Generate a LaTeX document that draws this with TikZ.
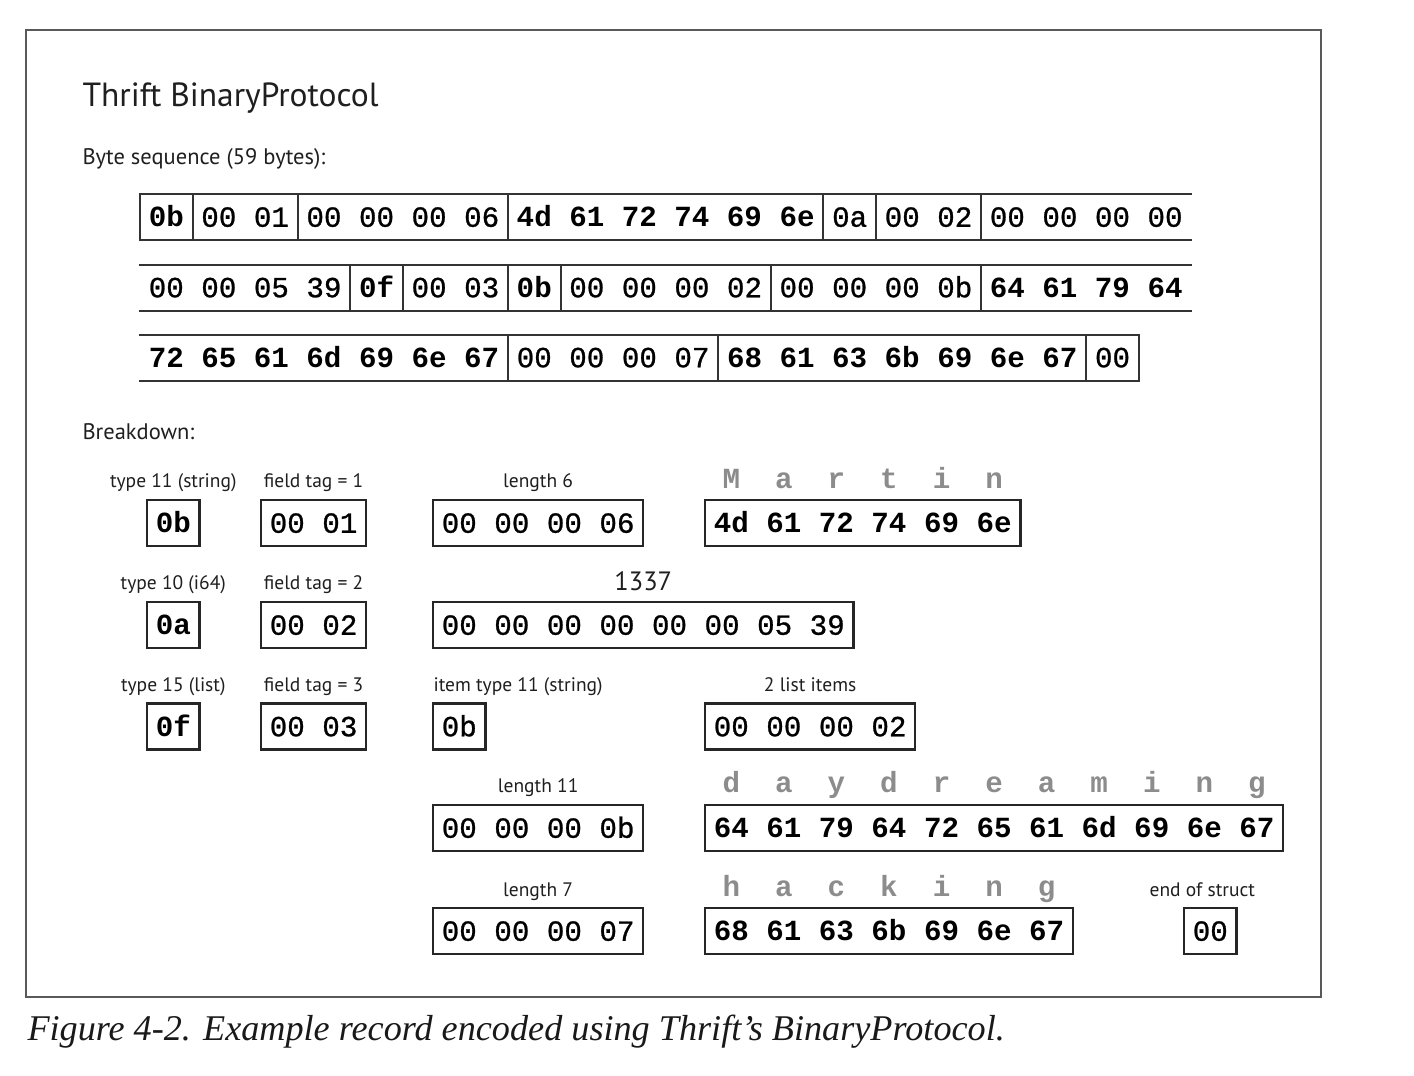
\documentclass[tikz,border=0pt]{standalone}
\usepackage{fontspec}
\setmainfont{Liberation Serif}
\newfontfamily\lblfont{PT Sans}
\newfontfamily\hexfont{Liberation Mono}
\newfontfamily\hexmed[FakeBold=0.9]{Liberation Mono}
\tikzset{
  hexr/.style={font=\hexmed\fontsize{29.2}{30}\selectfont},
  hexb/.style={font=\hexfont\bfseries\fontsize{29.2}{30}\selectfont},
  cell/.style={inner xsep=8.76pt, inner ysep=0pt, minimum height=46pt,
    text height=19.5pt, text depth=0pt, outer sep=0pt, anchor=west},
  rowline/.style={draw=black!80, line width=2pt, line cap=rect},
  bbox/.style={cell, draw=black!85, line width=2.4pt},
  lbl/.style={font=\lblfont\fontsize{19.5}{20}\selectfont, text=black!88, anchor=base},
  chr/.style={font=\hexfont\bfseries\fontsize{29.2}{30}\selectfont, text=black!45, anchor=base},
  frame/.style={draw=black!65, line width=1.2pt},
}
\begin{document}
\begin{tikzpicture}[x=1pt,y=-1pt]
\useasboundingbox (0,0) rectangle (1414,1076);
\draw[frame] (26,30) rectangle (1321,997);

% headings
\node[anchor=base west, font=\lblfont\fontsize{33.5}{35}\selectfont, text=black!88] (title) at (79,106) {Thrift BinaryProtocol};
\node[anchor=base west, font=\lblfont\fontsize{22.5}{24}\selectfont, text=black!88] (seq) at (79,164) {Byte sequence (59 bytes):};
\node[anchor=base west, font=\lblfont\fontsize{22.5}{24}\selectfont, text=black!88] (brk) at (79,439) {Breakdown:};

% ---- byte sequence row 1
\node[cell,hexb] (r1a) at (140,217) {0b};
\node[cell,hexr] (r1b) at (r1a.east) {00 01};
\node[cell,hexr] (r1c) at (r1b.east) {00 00 00 06};
\node[cell,hexb] (r1d) at (r1c.east) {4d 61 72 74 69 6e};
\node[cell,hexr] (r1e) at (r1d.east) {0a};
\node[cell,hexr] (r1f) at (r1e.east) {00 02};
\node[cell,hexr] (r1g) at (r1f.east) {00 00 00 00};
\draw[rowline] (r1a.north west) -- (r1g.north east);
\draw[rowline] (r1a.south west) -- (r1g.south east);
\draw[rowline] (r1a.north west) -- (r1a.south west);
\foreach \c in {a,b,c,d,e,f} \draw[rowline] (r1\c.north east) -- (r1\c.south east);

% ---- row 2
\node[cell,hexr] (r2a) at (140,287.5) {00 00 05 39};
\node[cell,hexb] (r2b) at (r2a.east) {0f};
\node[cell,hexr] (r2c) at (r2b.east) {00 03};
\node[cell,hexb] (r2d) at (r2c.east) {0b};
\node[cell,hexr] (r2e) at (r2d.east) {00 00 00 02};
\node[cell,hexr] (r2f) at (r2e.east) {00 00 00 0b};
\node[cell,hexb] (r2g) at (r2f.east) {64 61 79 64};
\draw[rowline] (r2a.north west) -- (r2g.north east);
\draw[rowline] (r2a.south west) -- (r2g.south east);
\foreach \c in {a,b,c,d,e,f} \draw[rowline] (r2\c.north east) -- (r2\c.south east);

% ---- row 3
\node[cell,hexb] (r3a) at (140,357.5) {72 65 61 6d 69 6e 67};
\node[cell,hexr] (r3b) at (r3a.east) {00 00 00 07};
\node[cell,hexb] (r3c) at (r3b.east) {68 61 63 6b 69 6e 67};
\node[cell,hexr] (r3d) at (r3c.east) {00};
\draw[rowline] (r3a.north west) -- (r3d.north east);
\draw[rowline] (r3a.south west) -- (r3d.south east);
\foreach \c in {a,b,c,d} \draw[rowline] (r3\c.north east) -- (r3\c.south east);

% ---- breakdown row A
\node[bbox,hexb] (bA1) at (147,523) {0b};
\node[bbox,hexr] (bA2) at (261,523) {00 01};
\node[bbox,hexr] (bA3) at (433,523) {00 00 00 06};
\node[bbox,hexb] (bA4) at (705,523) {4d 61 72 74 69 6e};
\node[lbl] (lA1) at ([yshift=13pt]bA1.north) {type 11 (string)};
\node[lbl] (lA2) at ([yshift=13pt]bA2.north) {field tag = 1};
\node[lbl] (lA3) at ([yshift=13pt]bA3.north) {length 6};
\foreach \ch [count=\k] in {M,a,r,t,i,n}
  \node[chr] (mA\k) at ([xshift={(\k-0.5)*52.56pt}, yshift=12pt]bA4.north west) {\ch};

% ---- row B
\node[bbox,hexb] (bB1) at (147,625) {0a};
\node[bbox,hexr] (bB2) at (261,625) {00 02};
\node[bbox,hexr] (bB3) at (433,625) {00 00 00 00 00 00 05 39};
\node[lbl] (lB1) at ([yshift=13pt]bB1.north) {type 10 (i64)};
\node[lbl] (lB2) at ([yshift=13pt]bB2.north) {field tag = 2};
\node[lbl, font=\lblfont\fontsize{26.5}{27}\selectfont] (lB3) at ([yshift=12pt]bB3.north) {1337};

% ---- row C
\node[bbox,hexb] (bC1) at (147,726.5) {0f};
\node[bbox,hexr] (bC2) at (261,726.5) {00 03};
\node[bbox,hexr] (bC3) at (433,726.5) {0b};
\node[bbox,hexr] (bC4) at (705,726.5) {00 00 00 02};
\node[lbl] (lC1) at ([yshift=12pt]bC1.north) {type 15 (list)};
\node[lbl] (lC2) at ([yshift=12pt]bC2.north) {field tag = 3};
\node[lbl, anchor=base west] (lC3) at ([xshift=-3pt, yshift=12pt]bC3.north west) {item type 11 (string)};
\node[lbl] (lC4) at ([yshift=12pt]bC4.north) {2 list items};

% ---- row D
\node[bbox,hexr] (bD1) at (433,828) {00 00 00 0b};
\node[bbox,hexb] (bD2) at (705,828) {64 61 79 64 72 65 61 6d 69 6e 67};
\node[lbl] (lD1) at ([yshift=13pt]bD1.north) {length 11};
\foreach \ch [count=\k] in {d,a,y,d,r,e,a,m,i,n,g}
  \node[chr] (mD\k) at ([xshift={(\k-0.5)*52.56pt}, yshift=13pt]bD2.north west) {\ch};

% ---- row E
\node[bbox,hexr] (bE1) at (433,931) {00 00 00 07};
\node[bbox,hexb] (bE2) at (705,931) {68 61 63 6b 69 6e 67};
\node[bbox,hexr] (bE3) at (1184,931) {00};
\node[lbl] (lE1) at ([yshift=12pt]bE1.north) {length 7};
\foreach \ch [count=\k] in {h,a,c,k,i,n,g}
  \node[chr] (mE\k) at ([xshift={(\k-0.5)*52.56pt}, yshift=12pt]bE2.north west) {\ch};
\node[lbl] (lE3) at ([xshift=-8pt, yshift=12pt]bE3.north) {end of struct};

% caption
\node[anchor=base west, font=\itshape\fontsize{36.2}{37}\selectfont, text=black!90] (cap) at (24,1040) {Figure 4-2. Example record encoded using Thrift’s BinaryProtocol.};
\end{tikzpicture}
\end{document}
